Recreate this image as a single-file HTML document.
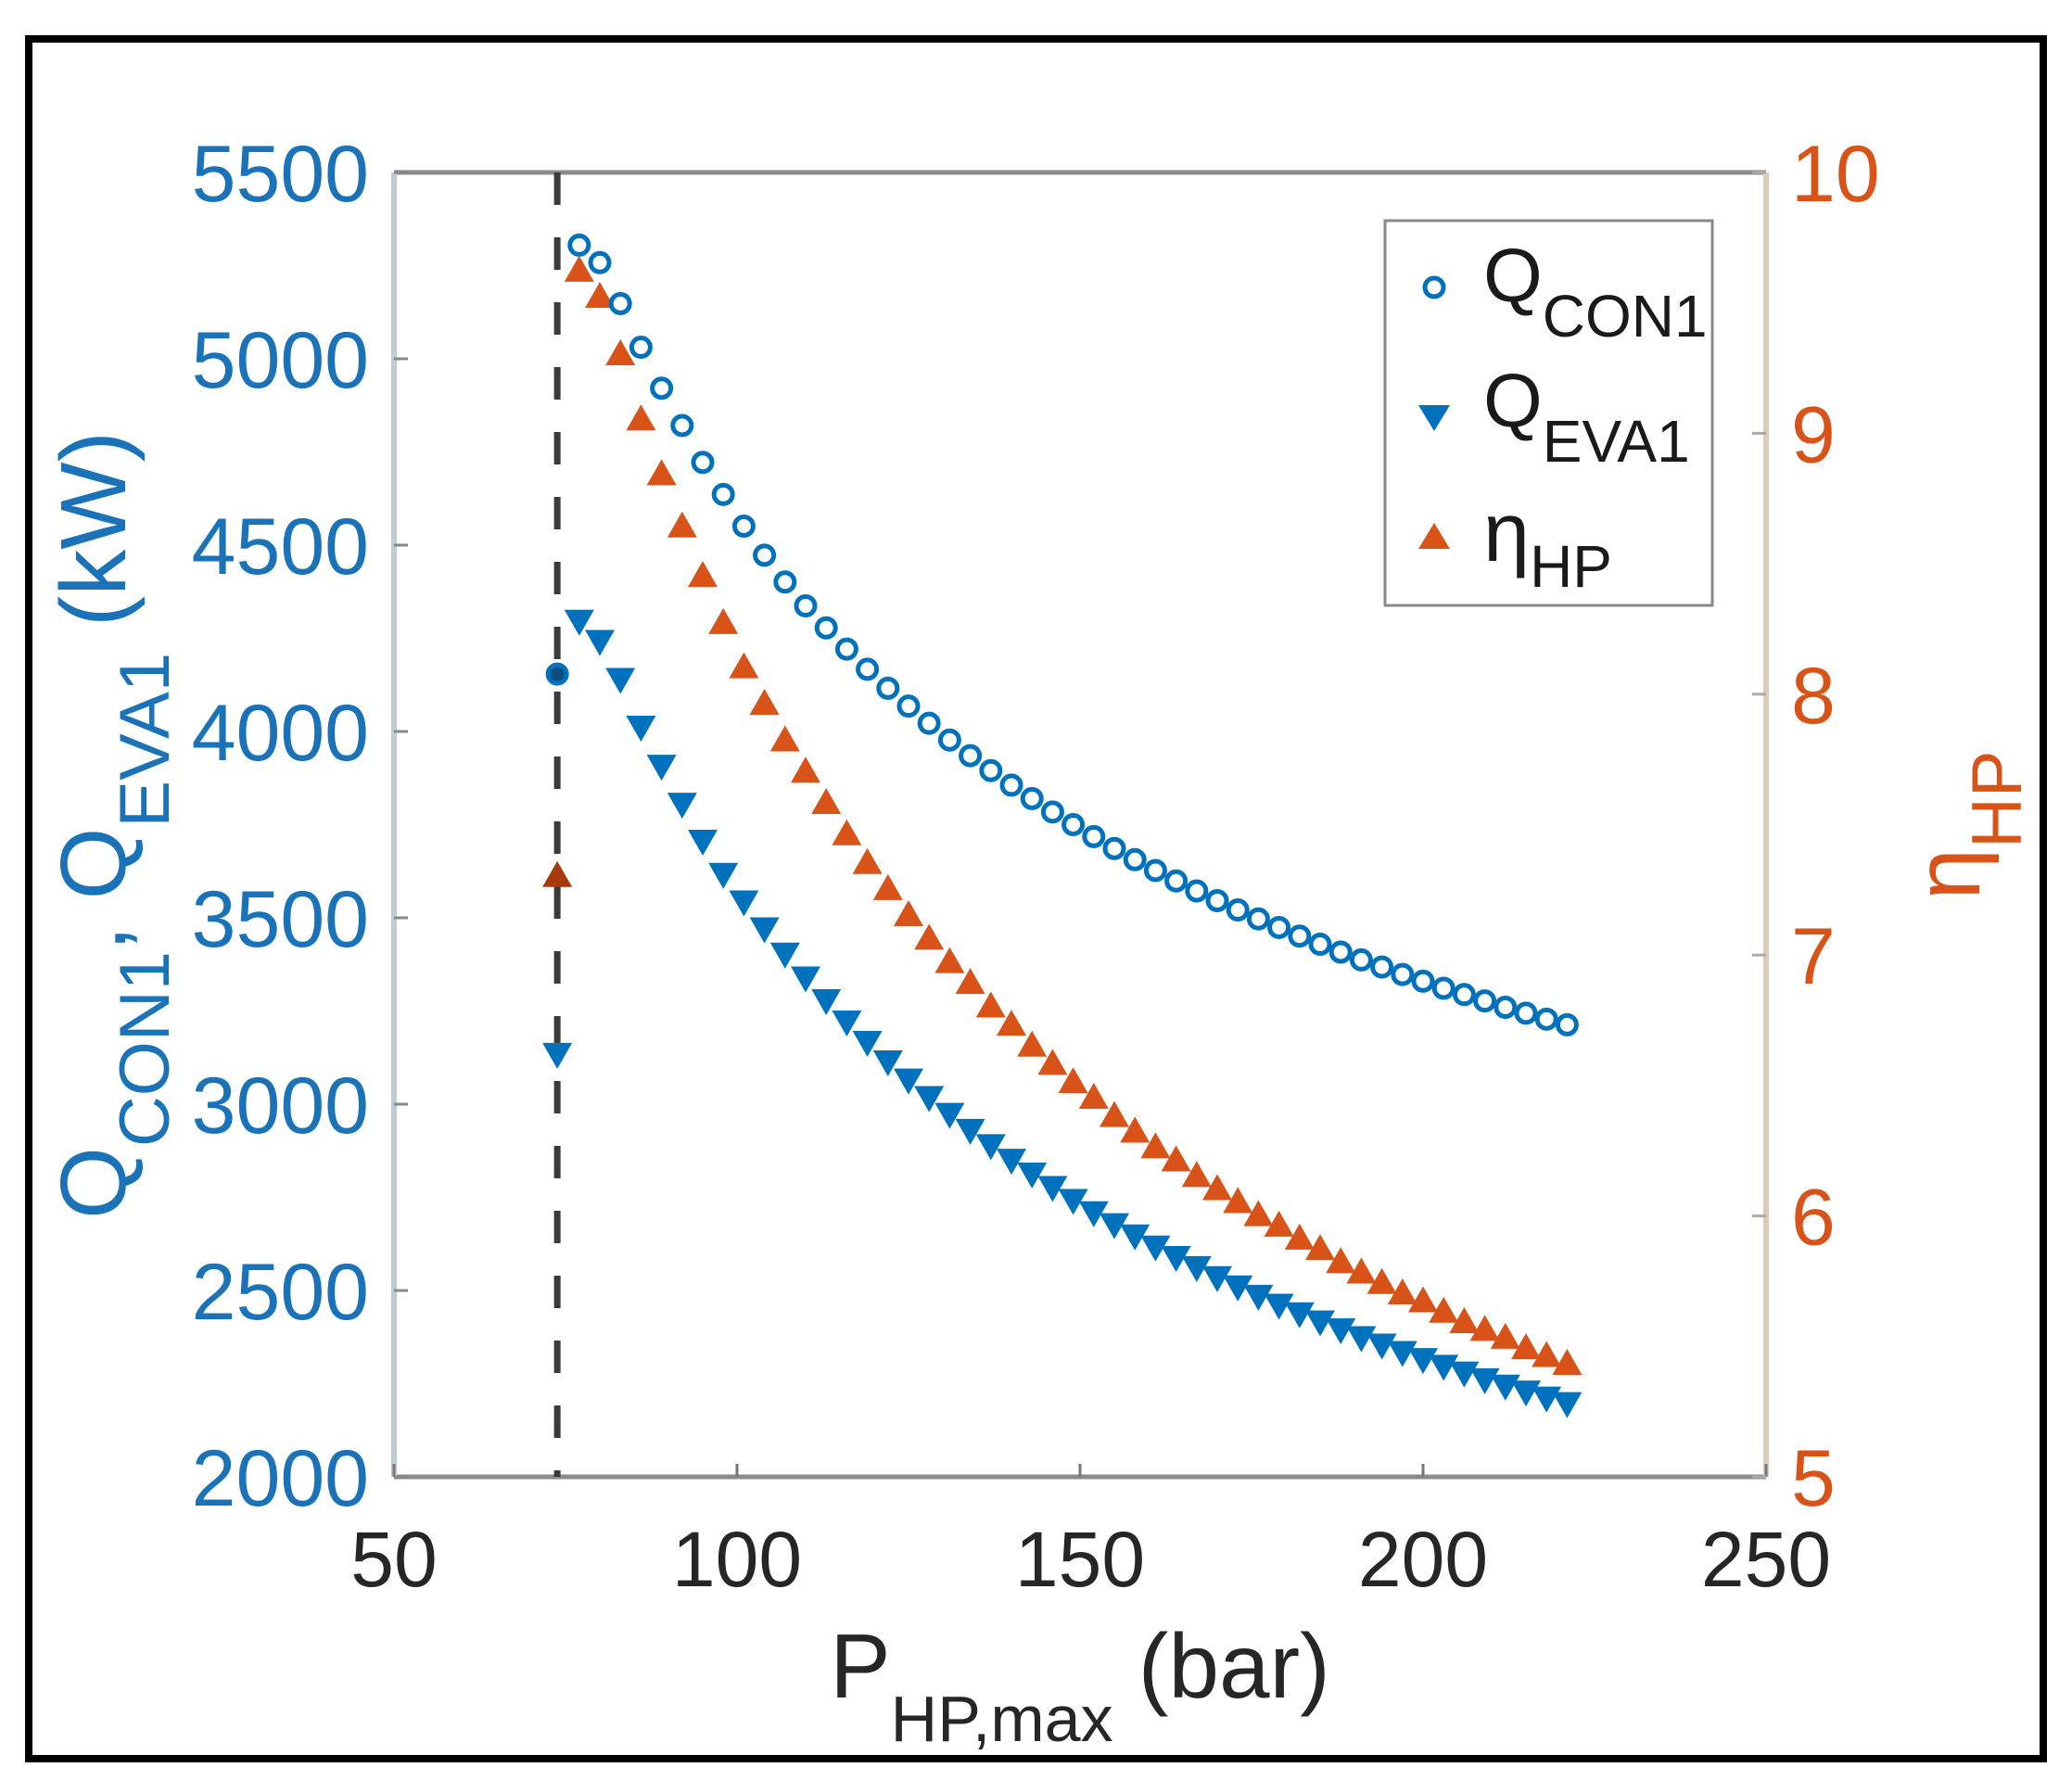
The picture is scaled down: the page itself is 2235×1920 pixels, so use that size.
<!DOCTYPE html>
<html><head><meta charset="utf-8"><style>
html,body{margin:0;padding:0;background:#fff}
svg{display:block}
text{font-family:"Liberation Sans",Arial,sans-serif}
</style></head><body>
<svg id="chart" width="2235" height="1920" viewBox="0 0 2235 1920">
<rect x="31" y="42" width="2173" height="1855" fill="#fff" stroke="#000" stroke-width="8"/>
<g id="axes"></g>
<g id="marks"></g>
<g id="legend">
 <rect x="1494" y="238" width="353" height="415" fill="#fff" stroke="#888" stroke-width="3"/>
 <circle cx="1547" cy="310" r="10" fill="none" stroke="#0072BD" stroke-width="5"/>
 <text x="1600" y="325" font-size="82" fill="#1a1a1a">Q<tspan font-size="64" dy="38">CON1</tspan></text>
 <polygon points="1530,437 1564,437 1547,465" fill="#0072BD"/>
 <text x="1600" y="460" font-size="82" fill="#1a1a1a">Q<tspan font-size="64" dy="38">EVA1</tspan></text>
 <polygon points="1530,592 1564,592 1547,564" fill="#D95319"/>
 <text x="1600" y="605" font-size="90" fill="#1a1a1a">η<tspan font-size="64" dy="28">HP</tspan></text>
</g>
<text x="1165" y="1831" font-size="98" fill="#262626" text-anchor="middle">P<tspan font-size="70" dy="47">HP,max</tspan><tspan dy="-47"> (bar)</tspan></text>
<text transform="translate(135,890) rotate(-90)" font-size="100" fill="#1a73b8" text-anchor="middle">Q<tspan font-size="76" dy="47">CON1</tspan><tspan dy="-47">, Q</tspan><tspan font-size="76" dy="47">EVA1</tspan><tspan dy="-47"> (kW)</tspan></text>
<text transform="translate(2135,890) rotate(-90)" font-size="100" fill="#D95319" text-anchor="middle">η<tspan font-size="76" dy="45">HP</tspan></text>
</svg>
<script>
const pressure = [77,80,83,86,89,92,95,98,101,104,107,110,113,116,119,122,125,128,131,134,137,140,143,146,149,152,155,158,161,164,167,170,173,176,179,182,185,188,191,194,197,200,203,206,209,212,215,218,221];
const qCon1 = [5305,5258,5148,5031,4921,4821,4722,4636,4551,4473,4401,4337,4278,4221,4167,4116,4068,4022,3977,3935,3895,3856,3820,3784,3750,3718,3686,3656,3627,3599,3572,3546,3521,3497,3474,3451,3429,3408,3387,3368,3348,3330,3311,3294,3277,3260,3244,3228,3213];
const qEva1 = [4299,4245,4143,4015,3910,3808,3709,3620,3546,3474,3406,3342,3281,3224,3169,3117,3068,3021,2976,2933,2892,2853,2816,2780,2745,2712,2680,2650,2620,2592,2565,2538,2513,2488,2464,2441,2419,2398,2377,2357,2337,2318,2300,2282,2264,2247,2231,2215,2200];
const etaHP = [9.62,9.52,9.30,9.05,8.84,8.64,8.45,8.27,8.10,7.96,7.82,7.70,7.58,7.46,7.35,7.25,7.15,7.06,6.97,6.89,6.80,6.73,6.65,6.58,6.51,6.45,6.38,6.32,6.26,6.21,6.15,6.10,6.05,6.00,5.96,5.91,5.87,5.82,5.78,5.74,5.70,5.67,5.63,5.59,5.56,5.53,5.49,5.46,5.43];
const criticalPressure = [73.8];
const criticalQCon1 = [4154];
const criticalQEva1 = [3137];
const criticalEta = [7.30];
const xTicks = [50,100,150,200,250];
const yLeftTicks = [2000,2500,3000,3500,4000,4500,5000,5500];
const yRightTicks = [5,6,7,8,9,10];

const L=425,R=1905,T=186,B=1593;
const X = v => L + (v-50)/200*(R-L);
const YL = v => B - (v-2000)/3500*(B-T);
const YR = v => B - (v-5)/5*(B-T);
const NS='http://www.w3.org/2000/svg';
function mk(tag, attrs, parent){const e=document.createElementNS(NS,tag);for(const k in attrs)e.setAttribute(k,attrs[k]);parent.appendChild(e);return e;}
const axes=document.getElementById('axes'), marks=document.getElementById('marks');

let e;
e=mk('line',{x1:L,y1:T,x2:R,y2:T,stroke:'#8a8a8a','stroke-width':5},axes);


e=mk('line',{x1:L,y1:B,x2:R,y2:B,stroke:'#8a8a8a','stroke-width':5},axes);


e=mk('line',{x1:L,y1:T,x2:L,y2:B,stroke:'#bccbd4','stroke-width':6},axes);


e=mk('line',{x1:R,y1:T,x2:R,y2:B,stroke:'#dccbb8','stroke-width':6},axes);



xTicks.forEach(v=>{
  const t=mk('line',{x1:X(v),y1:B,x2:X(v),y2:B-14,stroke:'#777','stroke-width':3},axes);
  
  
  const l=mk('text',{x:X(v),y:1711,'font-size':84,fill:'#262626','text-anchor':'middle'},axes);
  l.textContent=v;
  
  
});
yLeftTicks.forEach(v=>{
  const t=mk('line',{x1:L,y1:YL(v),x2:L+15,y2:YL(v),stroke:'#888','stroke-width':3},axes);
  
  
  const l=mk('text',{x:398,y:YL(v)+31,'font-size':86,fill:'#1a73b8','text-anchor':'end'},axes);
  l.textContent=v;
  
  
});
yRightTicks.forEach(v=>{
  const t=mk('line',{x1:R,y1:YR(v),x2:R-15,y2:YR(v),stroke:'#aaa','stroke-width':3},axes);
  
  
  const l=mk('text',{x:1932,y:YR(v)+31,'font-size':86,fill:'#D95319','text-anchor':'start'},axes);
  l.textContent=v;
  
  
});

criticalPressure.forEach(v=>{
  const d=mk('line',{x1:X(v),y1:T,x2:X(v),y2:B,stroke:'#3a3a3a','stroke-width':7,'stroke-dasharray':'35 35'},marks);
  
  
});

function circle(x,y,fill,name){
  const c=mk('circle',{cx:x,cy:y,r:10,fill:fill,stroke:'#0072BD','stroke-width':5},marks);
  
  
}
function triDown(x,y,color,name){
  const p=mk('polygon',{points:`${x-16},${y-11} ${x+16},${y-11} ${x},${y+17}`,fill:color},marks);
  
  
}
function triUp(x,y,color,name){
  const p=mk('polygon',{points:`${x-16},${y+11} ${x+16},${y+11} ${x},${y-17}`,fill:color},marks);
  
  
}
pressure.forEach((p,i)=>{
  triDown(X(p),YL(qEva1[i]),'#0072BD','qeva1-point');
  triUp(X(p),YR(etaHP[i]),'#D95319','eta-point');
  circle(X(p),YL(qCon1[i]),'none','qcon1-point');
});
criticalPressure.forEach((p,i)=>{
  circle(X(p),YL(criticalQCon1[i]),'#0b4f80','qcon1-critical-point');
  triDown(X(p),YL(criticalQEva1[i]),'#0072BD','qeva1-critical-point');
  triUp(X(p),YR(criticalEta[i]),'#a83a10','eta-critical-point');
});
</script>
</body></html>
